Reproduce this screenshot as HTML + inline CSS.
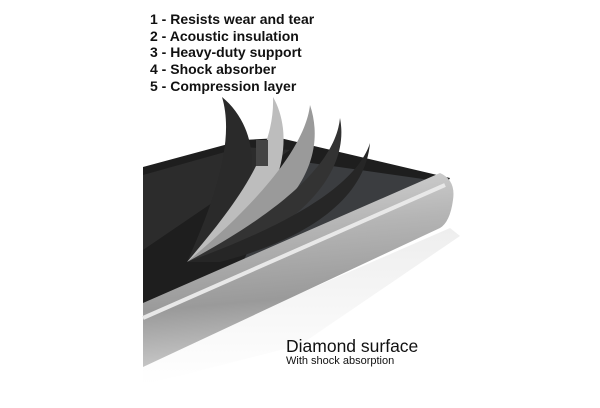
<!DOCTYPE html>
<html><head><style>
body{margin:0;width:600px;height:408px;background:#fff;overflow:hidden;position:relative;font-family:"Liberation Sans",sans-serif}
.t{position:absolute;left:150px;font-weight:bold;font-size:14px;color:#111;line-height:16.7px;top:11px}
</style></head><body>
<svg width="600" height="408" style="position:absolute;left:0;top:0">
<defs>
<linearGradient id="rail" x1="0" y1="0" x2="0.15" y2="1">
<stop offset="0" stop-color="#d8d8d8"/><stop offset="0.35" stop-color="#b5b5b5"/><stop offset="0.7" stop-color="#9a9a9a"/><stop offset="1" stop-color="#c8c8c8"/></linearGradient>
<linearGradient id="sh" x1="0" y1="0" x2="0" y2="1"><stop offset="0" stop-color="#ddd"/><stop offset="1" stop-color="#fff"/></linearGradient>
</defs>
<polygon points="143,362 450,228 460,236 300,345 143,385" fill="url(#sh)" opacity="0.5"/>
<polygon points="143,167 243,140 280,138 450,178 440,195 143,310" fill="#1e1e1e"/>
<polygon points="143,175 243,147 290,150 143,250" fill="#2c2c2c"/>
<polygon points="290,160 430,180 300,260 230,290" fill="#3b3d40"/>
<path d="M187,262 C215,200 235,140 222,97 C250,120 260,160 245,200 Z" fill="#2a2a2a"/>
<path d="M187,262 C240,200 275,150 273,97 C292,130 285,180 255,215 Z" fill="#bdbdbd"/>
<path d="M187,262 C250,210 305,150 310,105 C325,150 305,200 240,240 Z" fill="#9a9a9a"/>
<path d="M187,262 C265,220 335,170 340,118 C350,170 305,220 230,255 Z" fill="#333"/>
<path d="M187,262 C275,230 355,190 370,143 C365,200 305,240 220,262 Z" fill="#262626"/>
<rect x="256" y="140" width="12" height="26" fill="#444"/>
<path d="M143,303 L440,173 Q456,180 453,200 Q450,222 440,228 L143,367 Z" fill="url(#rail)"/>
<path d="M143,318 L445,185" stroke="#e8e8e8" stroke-width="4"/>
</svg>
<div class="t">1 - Resists wear and tear<br>2 - Acoustic insulation<br>3 - Heavy-duty support<br>4 - Shock absorber<br>5 - Compression layer</div>
<div style="position:absolute;left:286px;top:336px;font-size:17.5px;color:#111">Diamond surface</div>
<div style="position:absolute;left:286px;top:355px;font-size:11px;color:#111">With shock absorption</div>
</body></html>
